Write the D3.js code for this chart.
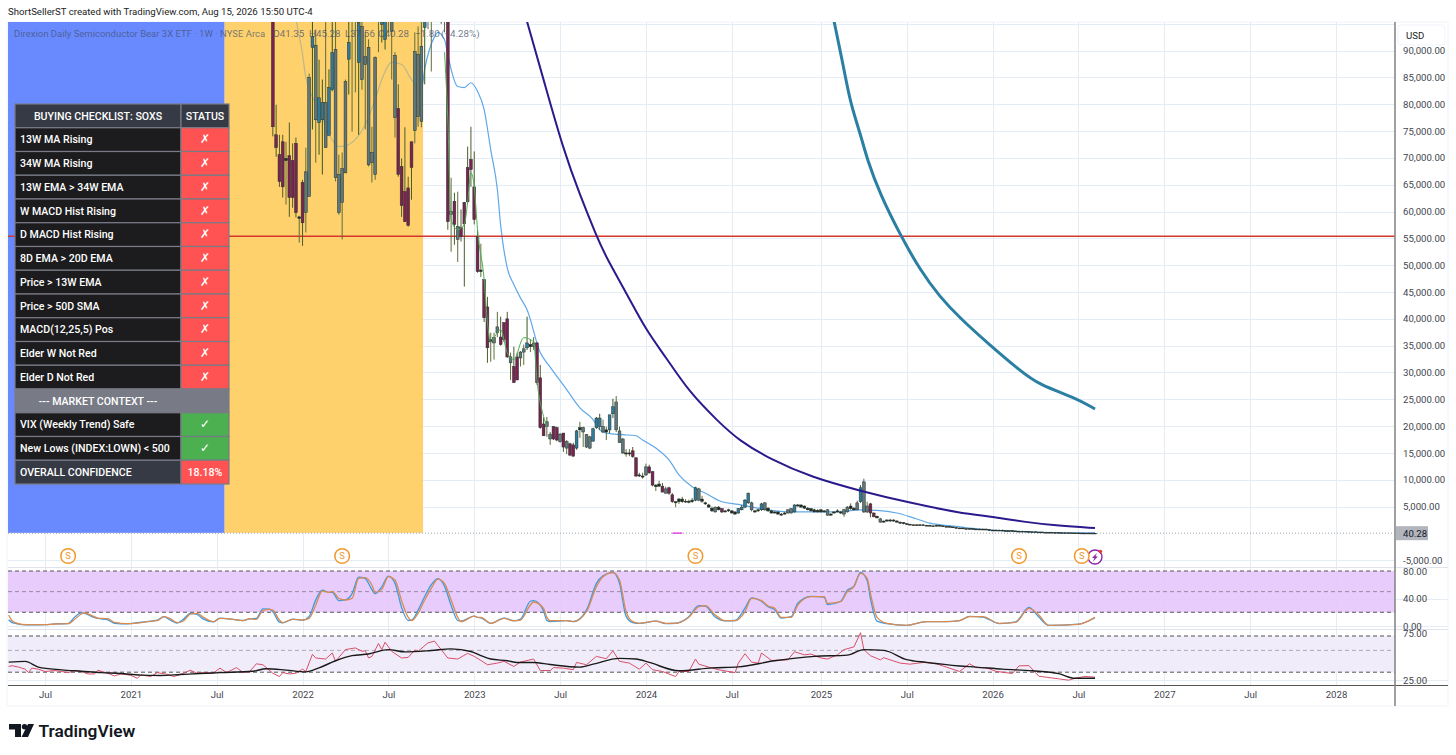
<!DOCTYPE html>
<html lang="en">

<head>
    <meta charset="UTF-8">
    <title>SOXS weekly</title>
    <style>
        html, body { margin: 0; padding: 0; background: #fff; }
        svg { display: block; }
        text { font-family: Roboto, sans-serif; }
    </style>
</head>

<body>
    <svg width="1456" height="755" id="svg"></svg>
    <script src="https://d3js.org/d3.v7.min.js"></script>
    <script>
        // weekly candles start 2021-11-01, prices in thousands of USD
        const firstCandleWeek = 69
        const opens = [
            103.3,74.3,70.6,73.0,69.9,70.4,69.5,72.7,58.7,65.4,
            59.8,62.8,90.6,77.1,76.6,77.1,71.9,74.2,82.7,66.3,
            59.8,61.7,67.2,88.4,96.2,96.7,87.8,84.6,87.4,68.7,
            69.1,66.9,97.3,94.9,92.1,95.8,93.6,77.5,79.2,68.4,
            63.7,64.4,73.0,75.1,77.7,76.8,94.3,97.3,97.7,98,
            98,97,96.5,105,59.4,61.9,54.8,57.0,61.7,68.2,
            69.7,64.6,55.3,48.8,47.3,42.2,35.7,35.5,37.4,36.6,
            39.3,40.0,31.8,31.1,32.9,32.7,33.8,34.6,34.8,34.8,
            35.5,29.0,20.4,19.9,17.6,19.9,19.7,18.5,18.7,17.1,
            16.7,16.5,15.9,19.3,18.9,16.1,15.9,17.2,19.7,19.9,
            18.9,18.9,19.3,22.3,19.3,16.9,15.0,14.8,14.8,15.4,
            14.1,10.7,10.5,10.9,12.4,11.5,8.7,8.8,8.8,7.5,
            8.5,7.2,5.7,5.9,5.9,5.9,5.8,5.9,6.2,6.2,
            6.0,5.5,4.9,4.2,4.0,4.4,4.6,4.0,4.2,3.8,
            3.6,3.8,4.4,4.9,5.7,4.4,4.0,4.2,4.4,4.4,
            4.2,3.8,3.8,3.6,3.4,3.6,3.8,3.8,4.0,5.1,
            4.9,4.7,4.4,4.2,4.0,4.0,4.0,4.0,3.4,3.4,
            3.8,4.0,3.8,3.6,4.0,4.6,4.4,4.4,5.9,4.0,
            4.0,5.5,3.8,2.9,2.1,2.1,2.3,2.3,2.3,2.1,
            1.9,
            2.0,1.8,1.7,1.6,1.6,1.5,1.6,1.5,1.5,1.4,
            1.4,1.5,1.4,1.3,1.3,1.2,1.1,1.0,1.0,0.9,
            0.9,0.9,0.8,0.8,0.7,0.8,0.7,0.6,0.6,0.6,
            0.6,0.5,0.5,0.5,0.45,0.4,0.4,0.4,0.35,0.3,
            0.3,0.25,0.25,0.2,0.2,0.2,0.15,0.15,0.12,0.12,
            0.1,0.1,0.08,0.08,0.06,0.05,0.05,0.05,0.0421
        ]
        const highs = [
            107,79.9,74.3,74.3,73.0,76.6,72.7,73.8,59.2,65.9,
            71.9,85.7,97.7,93.9,88.3,84.6,97.7,86.5,98.6,98.6,
            70.6,71.0,84.6,98.6,100.4,101.4,99.5,99.5,93.4,92.1,
            75.8,88.9,101,100,100,100,100,89.7,83.7,69.9,
            75.7,66.5,73.0,93.4,94.5,97.7,100.4,100,100,102,
            102,103,103,106,66.3,63.5,63.7,60.4,61.8,72.1,
            75.8,71.2,56.6,54.0,47.3,44.1,37.4,37.4,41.3,40.4,
            39.3,41.3,33.7,34.8,33.7,34.0,35.2,40.4,36.1,36.6,
            35.7,31.4,21.7,21.7,18.9,20.0,19.9,18.7,18.7,17.4,
            16.9,16.9,19.3,20.8,19.9,18.5,18.2,19.7,21.7,22.3,
            21.2,19.9,22.1,25.1,25.6,19.9,17.8,15.7,15.7,16.1,
            14.1,11.3,11.3,13.0,12.8,11.6,9.2,9.8,9.4,8.7,
            8.7,7.5,6.0,6.6,6.8,6.4,6.3,6.6,8.7,8.5,
            7.0,5.9,5.5,5.0,5.0,5.1,4.7,4.3,4.6,4.3,
            4.1,4.7,5.3,6.4,7.6,5.9,4.4,4.6,5.7,5.8,
            4.9,4.3,4.1,4.1,3.8,4.0,4.5,4.7,5.4,5.5,
            5.4,5.2,4.9,4.7,4.6,4.5,4.5,4.3,4.5,3.8,
            4.1,4.5,4.2,4.6,5.1,5.6,4.9,6.1,9.0,10.2,
            5.9,5.7,3.9,3.3,2.9,2.4,2.6,2.7,2.6,2.5,
            2.2,
            2.1,1.9,1.8,1.7,1.7,1.7,1.7,1.6,1.6,1.5,
            1.6,1.6,1.5,1.4,1.4,1.3,1.2,1.1,1.1,1.0,
            1.0,1.0,0.9,0.9,0.9,0.9,0.8,0.7,0.7,0.7,
            0.7,0.6,0.6,0.6,0.5,0.5,0.5,0.45,0.4,0.35,
            0.35,0.3,0.3,0.25,0.25,0.25,0.2,0.18,0.15,0.14,
            0.12,0.12,0.1,0.09,0.07,0.06,0.06,0.06,0.0453
        ]
        const lows = [
            74.0,70.2,64.6,62.6,61.3,59.0,60.7,58.9,54.2,53.6,
            56.1,62.8,75.3,69.1,70.6,66.9,71.9,74.2,82.4,65.6,
            59.4,54.8,67.2,81.8,74.9,82.2,74.3,82.7,75.3,68.4,
            65.4,65.9,89.7,91.5,90.2,93.4,84.6,73.8,66.5,59.0,
            58.1,57.2,62.2,72.7,75.8,75.7,83.7,94,86.1,96,
            96,95,93.4,56.6,52.5,53.8,50.6,54.4,46.0,61.7,
            64.6,57.6,48.6,47.8,39.4,31.8,32.0,32.4,36.6,35.0,
            35.7,32.7,28.6,28.1,28.6,31.1,31.4,34.2,33.8,34.2,
            27.7,19.5,18.2,18.0,16.5,17.4,17.2,16.9,15.2,14.8,
            14.4,14.3,15.6,17.8,16.1,15.9,15.7,17.1,19.5,19.3,
            18.7,17.4,18.7,21.5,18.9,16.9,14.8,14.3,14.4,14.1,
            10.5,10.5,10.2,10.7,11.1,8.8,7.9,8.7,7.7,7.4,
            7.2,5.7,4.9,5.5,5.7,5.7,5.6,5.7,6.0,6.0,
            5.7,5.3,4.8,4.0,3.9,4.3,3.8,3.9,4.0,3.7,
            3.5,3.7,4.3,4.7,5.5,4.1,3.8,4.0,4.2,4.2,
            4.0,3.7,3.7,3.5,3.3,3.5,3.7,3.7,3.9,5.0,
            4.8,4.6,4.3,4.1,3.9,3.9,3.9,3.9,3.3,3.3,
            3.7,3.9,3.6,3.1,3.9,4.4,4.2,4.3,5.7,3.8,
            3.8,3.0,3.0,2.8,2.0,2.0,2.2,2.2,2.2,2.0,
            1.8,
            1.7,1.6,1.5,1.5,1.4,1.4,1.4,1.4,1.3,1.3,
            1.3,1.3,1.2,1.2,1.1,1.0,0.9,0.9,0.8,0.8,
            0.8,0.7,0.7,0.6,0.6,0.6,0.5,0.5,0.5,0.5,
            0.4,0.4,0.4,0.4,0.35,0.35,0.3,0.3,0.25,0.25,
            0.2,0.2,0.15,0.15,0.15,0.12,0.12,0.1,0.1,0.08,
            0.07,0.07,0.06,0.05,0.04,0.04,0.04,0.04,0.0376
        ]
        const closes = [
            75.8,71.9,65.6,64.6,69.5,62.6,62.6,59.8,59.0,57.9,
            67.4,85.0,92.6,91.0,81.2,80.3,80.3,83.1,89.6,90.2,
            66.9,68.0,84.2,91.5,98.6,99.5,95.2,94.5,88.9,90.6,
            71.0,88.7,99.5,96.7,98.6,98.6,98.6,89.1,66.9,61.1,
            58.1,57.4,68.2,89.8,89.3,90.8,97.7,99.5,99.5,100,
            100,100,99,58.1,60.0,57.6,57.2,55.3,57.7,61.8,
            67.8,58.5,48.8,49.1,40.2,34.6,36.1,36.5,38.5,35.2,
            36.1,32.9,32.9,28.1,28.6,33.8,34.4,35.5,35.2,35.5,
            28.1,19.7,18.2,20.8,18.5,17.6,17.4,17.1,16.1,15.9,
            14.6,14.4,19.1,19.7,19.7,18.4,18.0,19.5,21.5,21.5,
            19.9,19.3,22.1,23.6,24.5,19.1,17.6,15.0,15.0,14.3,
            10.7,10.9,10.7,12.4,11.3,9.0,9.0,9.2,7.7,8.3,
            7.5,5.9,5.9,6.4,6.4,6.0,6.0,6.2,8.5,8.3,
            6.4,5.7,5.3,4.7,4.9,4.9,4.0,4.2,4.4,4.2,
            4.0,4.6,4.9,6.2,7.5,5.7,4.2,4.4,5.5,5.7,
            4.7,4.2,4.0,4.0,3.6,3.8,4.4,4.6,5.3,5.3,
            5.3,5.1,4.7,4.6,4.4,4.3,4.4,4.2,4.4,3.6,
            4.0,4.2,4.0,4.4,4.9,5.1,4.7,5.7,8.5,9.6,
            5.1,3.8,3.1,3.2,2.7,2.3,2.5,2.5,2.5,2.3,
            2.1,
            1.8,1.7,1.6,1.6,1.5,1.6,1.5,1.5,1.4,1.4,
            1.5,1.4,1.3,1.3,1.2,1.1,1.0,1.0,0.9,0.9,
            0.9,0.8,0.8,0.7,0.8,0.7,0.6,0.6,0.6,0.6,
            0.5,0.5,0.5,0.45,0.4,0.4,0.4,0.35,0.3,0.3,
            0.25,0.25,0.2,0.2,0.2,0.15,0.15,0.12,0.12,0.1,
            0.1,0.08,0.08,0.06,0.05,0.05,0.05,0.042,0.0403
        ]
        // elder impulse state of each bar: -1 red, 0 neutral, 1 up
        const impulse = [
            -1,-1,-1,-1,0,-1,-1,-1,0,-1,
            0,0,1,0,1,1,0,1,1,0,
            0,0,0,1,0,0,1,0,0,0,
            0,0,0,1,1,0,0,0,-1,-1,
            -1,-1,-1,0,0,0,1,0,0,0,
            0,1,0,-1,0,-1,0,-1,-1,-1,
            -1,-1,-1,0,-1,-1,0,0,0,-1,
            -1,-1,0,-1,-1,0,0,1,0,0,
            -1,-1,-1,0,0,-1,-1,0,-1,0,
            -1,-1,1,0,0,0,0,1,1,1,
            0,0,1,1,0,0,0,0,0,-1,
            -1,0,0,0,-1,-1,0,0,-1,0,
            -1,-1,0,0,0,0,0,0,1,0,
            0,0,0,0,0,0,-1,0,0,0,
            0,1,1,1,1,0,0,0,1,0,
            0,0,0,0,0,0,0,0,1,0,
            0,0,0,0,0,0,0,0,0,0,
            0,0,0,0,0,0,0,0,1,0,
            0,-1,-1,0,0,0,0,0,0,0,
            0,
            0,0,0,0,0,0,0,0,0,0,
            0,0,0,0,0,0,0,0,0,0,
            0,0,0,0,0,0,0,0,0,0,
            0,0,0,0,0,0,0,0,0,0,
            0,0,0,0,0,0,0,0,0,0,
            0,0,0,0,0,0,0,0,0
        ]

        // moving averages, week numbers counted from 2020-07-06
        const ema13Weeks = [76,78,79,83,86,89,92,97,100,102,105,108,111,114,115,118,119,121,122,123,125,127,129,131,133,135,137,138,140,142,144,146,150,153,158,162,166,168,170,175,179,181,185,189,192,196,200,205,210,216,225,240,247,252,258,263,268,276,285,300,318]
        const ema13Vals = [95.8,89.3,85.0,79.0,74.4,72.1,72.5,76.2,80.9,84.6,87.8,87.4,84.6,82.8,86.5,92.6,93.4,92,89.3,86.5,83.3,83.1,84.0,82.4,79.0,71.5,64.1,57.5,49.5,46.4,43.9,41.7,33.7,31.0,26.8,23.4,21.2,19.3,18.7,18.4,18.2,17.4,15.9,13.7,10.9,8.7,7.5,5.9,5.4,4.7,4.0,4.0,4.4,4.3,3.8,2.9,1.9,1.3,0.7,0.26,0.08]
        const ema8Weeks = [121,122,123,125,127,128,129,130,131,133,134,135,136,138,140,142,145,148,149,151,152]
        const ema8Vals = [89.7,77.2,58.5,56.6,57.6,61.7,67.2,64.6,56.6,47.3,39.3,35.7,36.5,38.0,33.7,32.4,36.5,35.7,28.6,21.8,19.9]
        const sma50Weeks = [146,151,157,162,167,170,176,182,188,195,204,210,220,232,247,262,277,287,297,307,318]
        const sma50Vals = [95.4,84.6,71.5,63.1,55.5,51.4,44.9,37.9,32.9,26.4,20.8,17.4,13.7,10.5,7.9,5.7,3.8,3.1,2.1,1.4,1.0]
        const sma200Weeks = [239,242,244,247,249,253,259,265,271,277,286,295,301,312,318]
        const sma200Vals = [95.4,86.5,80,74.4,69.7,63.1,55.7,49.1,44.1,40.2,35.2,30.5,27.7,25.3,23.2]

        const stochWeeks = [-11,-10,-9,-7,-4,0,3,7,9,11,12,14,16,19,21,25,28,31,34,36,38,40,42,44,46,48,51,53,57,60,62,64,66,68,69,71,72,75,78,80,82,84,86,87,89,91,93,95,97,99,100,102,104,106,108,110,111,113,115,117,119,121,123,125,126,130,131,132,135,139,142,144,147,148,151,152,153,158,160,164,167,169,172,174,176,178,180,185,188,191,195,198,200,203,206,209,212,214,217,219,221,223,226,228,232,236,237,241,243,245,247,249,250,252,255,261,267,273,277,280,284,289,294,298,301,304,313,318]
        const stochD = [16,7.7,4.8,2.4,1.9,1.9,2.9,3.4,9.7,17.4,18.9,15.5,11.6,10.6,5.3,3.4,4.3,6.3,7.7,13.6,10.6,4.8,7.7,17.4,18.4,12.6,6.3,11.1,9.7,7.7,10.6,9.7,22.3,24.2,23.2,8.7,4.8,9.7,8.7,11.1,30.5,50.9,48.9,50.4,40.2,37.8,40.2,69.3,70.3,59.6,48.9,53.3,71.7,66.9,36.8,12.6,7.7,18.4,37.8,54.8,68.3,62,37.8,12.6,6.3,14.5,12.6,12.6,3.9,11.1,7.7,8.7,30.5,34.9,25.7,12.6,7.7,7.7,6.3,20.8,57.2,71.7,77.5,66.9,20.8,6.3,3.9,7.2,3.9,3.9,12.6,28.1,29.6,16,7.7,7.7,20.8,40.2,36.8,29.1,25.7,12.6,12.6,30.5,42.6,42.6,32.9,35.4,49.9,57.2,76.6,69.3,47.5,12.6,3.9,1,6.3,6.3,7.8,13.6,13.6,3.9,5.4,25.7,16,1,2.5,12.6]
        const stochK = [9,5,4,2,1.5,2,3,3.5,13,19,18.5,14,11,9,4,3,4.8,6.5,8.5,13.5,8.5,4.2,10,18.5,17,10,6,11.5,9.5,8,10.5,11,25,24.5,21,5.5,4.5,10,8.5,14,38,52,49,49,37,38,47,71,69,53,47,57,72.5,62,27,8,8.5,23,43,60,69,58,30,8,7,14.5,12.5,12,3.9,11.5,7.5,10,36,37,22,8,6.3,7.7,6.3,23,62,73,78,62,14,5,3.8,7,3.5,4,13.5,29.5,29,13,7.5,8,26,41,36,28,24,11.5,13.5,33,43,42,31,36,52,58,78,66,40,7,3.5,1,6.5,6.3,7.8,14,13,3.5,6,27,13,1,2.8,12]

        const rsiWeeks = [-11,-10,-8,-6,-5,-4,-2,0,3,5,7,9,11,13,15,16,19,21,23,26,28,29,32,34,37,39,42,44,46,48,51,53,55,58,60,62,64,66,69,71,72,74,76,78,79,81,82,85,87,88,91,94,96,97,98,99,101,102,103,105,108,110,112,113,116,118,119,122,125,128,130,132,134,137,139,142,144,148,150,153,154,157,160,161,164,167,170,172,174,177,180,182,184,187,191,192,195,197,198,201,204,209,210,212,214,216,217,220,225,227,230,232,235,237,240,242,245,247,248,250,253,254,259,262,266,270,273,277,280,282,285,288,293,295,298,301,307,310,312,315,318]
        const rsiVals = [34.3,34.9,33.8,32.2,29.7,33,32.2,30.5,31.2,30.5,29.7,31.2,30.5,28.8,28.8,31.4,29.3,27.5,28.8,27.9,26,28.2,27.1,29.7,28.6,27.1,29.3,31.4,29.3,29.7,29.3,33,29.7,33.4,29.7,30.5,36.5,35.7,29.3,27.1,29.7,28.8,29.3,32.2,30.5,45.6,41.8,40.8,47,38.7,50.9,52.9,48.9,49.5,41.8,43.4,58.7,50.9,60.5,48.9,41.8,42.4,50.4,48.9,59.6,62,56,41.8,40.8,46.6,43.4,39.5,35.7,37.1,38.7,34.3,38,40.8,31.2,31.2,33.4,33,31.8,37.7,35.7,43.4,41.1,49.4,38.7,37.1,32.2,37.1,31.8,30.5,27.1,30.5,30.5,40.8,36.2,33.8,31.8,29.7,37.1,46.2,38,37.1,47,39.5,40,48.4,45,45.9,41.8,40.8,45,50.9,54.2,75.5,50.9,44.1,40,42.1,37.1,36.2,37.7,36.5,33.8,30.5,36.5,33.4,33.4,30.6,29.1,34.8,35,27.3,25.7,24.9,26,27.2,26.7]
        const rsiMaWeeks = [-11,-6,-2,5,11,17,23,29,35,41,47,53,63,67,73,79,83,88,93,98,104,109,117,123,129,132,135,140,143,148,153,162,166,174,179,183,192,202,210,221,233,243,248,254,261,267,277,282,290,299,307,312,318]
        const rsiMaVals = [38,38.6,33.8,31.7,30.7,29.7,29.1,28,27.8,28.4,29.1,29.7,30.7,32.5,31.5,30.2,33.2,39.2,44.2,45.9,50.9,48.2,49.8,51.7,48.7,44.2,40.8,39.2,37.7,37.7,35.9,33.8,36.2,41.4,40.8,37.7,31,33.2,34,39.2,43.4,44.7,50.9,50,40.2,37.7,34.7,33.8,32.2,31,29,26,26]

        const priceTicks = [85,80,75,70,65,60,55,50,45,40,35,30,25,20,15,10,5,-5,90]
        const gridPrices = [95,90,85,80,75,70,65,60,55,50,45,40,35,30,25,20,15,10,5,-5]
        const timeTickWeeks = [0,26,52,78,104,130,156,182,208,235,261,287,313,339,365,391]
        const timeTickLabels = ["Jul","2021","Jul","2022","Jul","2023","Jul","2024","Jul","2025","Jul","2026","Jul","2027","Jul","2028"]
        const zoneWeeks = [-11.2, 54.4, 114.5]
        const dividendWeeks = [7, 90, 197, 295, 314]
        const alertWeek = 318
        const supportLevel = 55.4
        const lastPrice = 0.04028
        const stochLevels = [80, 50, 20]
        const rsiLevels = [70, 50, 30]

        const checkLabels = ["13W MA Rising","34W MA Rising","13W EMA > 34W EMA","W MACD Hist Rising","D MACD Hist Rising","8D EMA > 20D EMA","Price > 13W EMA","Price > 50D SMA","MACD(12,25,5) Pos","Elder W Not Red","Elder D Not Red"]
        const contextLabels = ["VIX (Weekly Trend) Safe","New Lows (INDEX:LOWN) < 500"]
        const legendParts = ["O41.35","H45.28","L37.56","C40.28","\u22121.80","(\u22124.28%)"]

        const svg = d3.select("svg#svg")
        const paneLeft = 8, paneRight = 1395, paneTop = 22, axisY = 685, paneBottom = 706

        const base = Date.UTC(2020, 6, 6)
        const weekDate = w => new Date(base + w * 7 * 864e5)
        const x = d3.scaleUtc().domain([weekDate(0), weekDate(391)]).range([45, 1336])
        const y = d3.scaleLinear().domain([0, 85]).range([533.4, 77.4])
        const yStoch = d3.scaleLinear().domain([0, 80]).range([626, 571])
        const yRsi = d3.scaleLog().domain([25, 75]).range([680, 633])

        const defs = svg.append("defs")
        const addClip = (id, x0, x1, y0, y1) => defs.append("clipPath").attr("id", id).append("rect")
            .attr("x", x0).attr("y", y0).attr("width", x1 - x0).attr("height", y1 - y0)
        addClip("main", paneLeft, paneRight, paneTop, 566)
        addClip("yellow", x(weekDate(zoneWeeks[0])), x(weekDate(zoneWeeks[2])), paneTop, 566)
        addClip("white", x(weekDate(zoneWeeks[2])), paneRight, paneTop, 566)
        addClip("stoch", paneLeft, paneRight, 568, 628)
        addClip("rsi", paneLeft, paneRight, 630, axisY)

        // outer frame and title
        svg.append("rect").attr("x", paneLeft - 1).attr("y", paneTop).attr("width", 1441).attr("height", paneBottom - paneTop)
            .attr("fill", "#fff").attr("stroke", "#f0f3fa")
        svg.append("text").attr("x", 8).attr("y", 15).attr("font-size", 9.65).attr("fill", "#222")
            .text("ShortSellerST created with TradingView.com, Aug 15, 2026 15:50 UTC-4")

        // grid
        const grid = svg.append("g").attr("stroke", "#e4ecf5").attr("stroke-width", 1)
        grid.selectAll(".h").data(gridPrices).join("line").attr("class", "h")
            .attr("x1", paneLeft).attr("x2", paneRight).attr("y1", d => Math.round(y(d)) + .5).attr("y2", d => Math.round(y(d)) + .5)
        grid.selectAll(".v").data(timeTickWeeks).join("line").attr("class", "v")
            .attr("y1", paneTop).attr("y2", axisY).attr("x1", d => Math.round(x(weekDate(d))) + .5).attr("x2", d => Math.round(x(weekDate(d))) + .5)
        grid.selectAll(".p").data([yStoch(40), yStoch(0), yRsi(25)]).join("line").attr("class", "p")
            .attr("x1", paneLeft).attr("x2", 1448).attr("y1", d => Math.round(d) + .5).attr("y2", d => Math.round(d) + .5)

        // coloured zones
        const zoneColors = ["#6083ff", "#fece64"]
        svg.append("g").selectAll("rect").data(zoneColors).join("rect")
            .attr("x", (d, i) => x(weekDate(zoneWeeks[i])))
            .attr("width", (d, i) => x(weekDate(zoneWeeks[i + 1])) - x(weekDate(zoneWeeks[i])))
            .attr("y", paneTop).attr("height", y(0.1) - paneTop)
            .attr("fill", d => d).attr("fill-opacity", .94)

        const mainLine = (weeks, vals, curve = d3.curveMonotoneX) => d3.line().curve(curve)
            .x((d, i) => x(weekDate(weeks[i]))).y(d => y(d))(vals)
        const main = svg.append("g").attr("clip-path", "url(#main)")

        // 13W ema, washed out where it runs under the yellow zone
        main.append("path").attr("d", mainLine(ema13Weeks, ema13Vals)).attr("fill", "none")
            .attr("stroke", "#bdb88a").attr("stroke-width", 1.2).attr("clip-path", "url(#yellow)")
        main.append("path").attr("d", mainLine(ema13Weeks, ema13Vals)).attr("fill", "none")
            .attr("stroke", "#5fa8e8").attr("stroke-width", 1.2).attr("clip-path", "url(#white)")

        // support line
        main.append("line").attr("x1", paneLeft).attr("x2", paneRight).attr("y1", y(supportLevel)).attr("y2", y(supportLevel))
            .attr("stroke", "#d5362c").attr("stroke-width", 1.6)

        // last price dotted line
        main.append("line").attr("x1", paneLeft).attr("x2", paneRight).attr("y1", y(lastPrice)).attr("y2", y(lastPrice))
            .attr("stroke", "#9aa0ab").attr("stroke-width", 1).attr("stroke-dasharray", "1 2")

        // candles, tiny bodies read as near black in the reference
        const bodyColor = d3.scaleOrdinal().domain([-1, 0, 1]).range(["#7a2350", "#5f787c", "#2f7b9c"])
        const wickColor = d3.scaleOrdinal().domain([-1, 0, 1]).range(["#4d5c2c", "#5f6d3a", "#35581f"])
        const bars = d3.range(opens.length)
        const barX = i => x(weekDate(firstCandleWeek + i))
        const bodyH = i => Math.abs(y(opens[i]) - y(closes[i]))
        main.append("g").selectAll("line").data(bars).join("line")
            .attr("x1", i => barX(i)).attr("x2", i => barX(i))
            .attr("y1", i => y(highs[i])).attr("y2", i => y(lows[i]))
            .attr("stroke", i => wickColor(impulse[i])).attr("stroke-width", 1)
        main.append("g").selectAll("rect").data(bars).join("rect")
            .attr("x", i => barX(i) - 1.4).attr("width", 2.8)
            .attr("y", i => y(Math.max(opens[i], closes[i])))
            .attr("height", i => Math.max(.8, bodyH(i)))
            .attr("fill", i => bodyH(i) < 3 && impulse[i] === 0 ? "#1f2a26" : bodyColor(impulse[i]))
            .attr("stroke", "#26302c").attr("stroke-width", .5)

        main.append("path").attr("d", mainLine(ema8Weeks, ema8Vals)).attr("fill", "none")
            .attr("stroke", "#4caf50").attr("stroke-width", 1)
        main.append("path").attr("d", mainLine(sma50Weeks, sma50Vals, d3.curveBasis)).attr("fill", "none")
            .attr("stroke", "#2a1a8c").attr("stroke-width", 2)
        main.append("path").attr("d", mainLine(sma200Weeks, sma200Vals, d3.curveBasis)).attr("fill", "none")
            .attr("stroke", "#2b7fa3").attr("stroke-width", 3)

        // pink marker on the price line
        main.append("line").attr("x1", x(weekDate(190))).attr("x2", x(weekDate(193))).attr("y1", y(0.05)).attr("y2", y(0.05))
            .attr("stroke", "#e23fe0").attr("stroke-width", 1.4)

        // legend
        svg.append("text").attr("x", 14).attr("y", 37).attr("font-size", 9.5).attr("fill", "#3f4f6a").attr("fill-opacity", .7)
            .text("Direxion Daily Semiconductor Bear 3X ETF \u00b7 1W \u00b7 NYSE Arca")
        svg.append("g").selectAll("text").data(legendParts).join("text")
            .attr("x", (d, i) => [273, 309, 345, 378, 415, 441][i]).attr("y", 37).attr("font-size", 9.8)
            .attr("fill", "#3f4f6a").attr("fill-opacity", .75).text(d => d)

        // stochastic pane
        svg.append("rect").attr("x", paneLeft).attr("width", paneRight - paneLeft)
            .attr("y", yStoch(80)).attr("height", yStoch(20) - yStoch(80)).attr("fill", "#e5c8fc").attr("fill-opacity", .92)
        svg.append("g").selectAll("line").data(stochLevels).join("line")
            .attr("x1", paneLeft).attr("x2", paneRight).attr("y1", d => yStoch(d)).attr("y2", d => yStoch(d))
            .attr("stroke", d => d === 50 ? "#9b8aa8" : "#555").attr("stroke-width", 1).attr("stroke-dasharray", "4 3")
        const stochLine = vals => d3.line().curve(d3.curveMonotoneX)
            .x((d, i) => x(weekDate(stochWeeks[i]))).y(d => yStoch(d))(vals)
        const stochG = svg.append("g").attr("clip-path", "url(#stoch)").attr("fill", "none").attr("stroke-width", 1.3)
        stochG.append("path").attr("d", stochLine(stochK)).attr("stroke", "#3d9be0")
        stochG.append("path").attr("d", stochLine(stochD)).attr("stroke", "#d98b52")

        // rsi pane, log scale
        svg.append("rect").attr("x", paneLeft).attr("width", paneRight - paneLeft)
            .attr("y", yRsi(70)).attr("height", yRsi(30) - yRsi(70)).attr("fill", "#f1ecf9")
        svg.append("g").selectAll("line").data(rsiLevels).join("line")
            .attr("x1", paneLeft).attr("x2", paneRight).attr("y1", d => yRsi(d)).attr("y2", d => yRsi(d))
            .attr("stroke", d => d === 30 ? "#555" : d === 70 ? "#888" : "#a8a8b4").attr("stroke-width", d => d === 70 ? 1.4 : 1).attr("stroke-dasharray", "4 3")
        const rsiG = svg.append("g").attr("clip-path", "url(#rsi)").attr("fill", "none")
        rsiG.append("path").attr("stroke", "#d9506a").attr("stroke-width", 1)
            .attr("d", d3.line().x((d, i) => x(weekDate(rsiWeeks[i]))).y(d => yRsi(d))(rsiVals))
        rsiG.append("path").attr("stroke", "#1a1a1a").attr("stroke-width", 1.4)
            .attr("d", d3.line().curve(d3.curveMonotoneX).x((d, i) => x(weekDate(rsiMaWeeks[i]))).y(d => yRsi(d))(rsiMaVals))

        // pane separators
        svg.append("g").attr("stroke", "#e0e3eb").selectAll("line").data([567, 629]).join("line")
            .attr("x1", paneLeft).attr("x2", 1448).attr("y1", d => d + .5).attr("y2", d => d + .5)

        // alert marker goes under the last dividend one
        const alertMark = svg.append("g").attr("transform", `translate(${x(weekDate(alertWeek))},557)`)
        alertMark.append("circle").attr("r", 7).attr("fill", "#fff").attr("stroke", "#8e24aa").attr("stroke-width", 1.4)
        alertMark.append("path").attr("d", "M2,-4 L-3,1 L-.5,1 L-2,4.5 L3,-.5 L.5,-.5 Z").attr("fill", "#8e24aa")
        alertMark.append("circle").attr("cx", 5.5).attr("cy", -5.5).attr("r", 1.8).attr("fill", "#e53935")

        // dividend markers
        const marks = svg.append("g").selectAll("g").data(dividendWeeks).join("g")
            .attr("transform", d => `translate(${x(weekDate(d))},556)`)
        marks.append("circle").attr("r", 7.3).attr("fill", "#fff").attr("stroke", "#f2982c").attr("stroke-width", 1.5)
        marks.append("text").attr("text-anchor", "middle").attr("y", 3.4).attr("font-size", 9.5).attr("fill", "#f2982c").text("S")

        // axes
        const axisFont = g => g.call(s => s.select(".domain").remove())
            .call(s => s.selectAll("text").attr("font-size", 9.6).attr("fill", "#43464f").attr("font-family", "Roboto, sans-serif").attr("text-anchor", "start"))
        svg.append("g").attr("transform", `translate(${paneRight},0)`)
            .call(d3.axisRight(y).tickValues(priceTicks).tickSize(0).tickPadding(8)
                .tickFormat(d => d3.format(",.2f")(d * 1000).replace("\u2212", "-")))
            .call(axisFont)
        svg.append("g").attr("transform", `translate(${paneRight},0)`)
            .call(d3.axisRight(yStoch).tickValues([80, 40, 0]).tickSize(0).tickPadding(8).tickFormat(d3.format(".2f")))
            .call(axisFont)
        svg.append("g").attr("transform", `translate(${paneRight},0)`)
            .call(d3.axisRight(yRsi).tickValues([75, 25]).tickSize(0).tickPadding(8).tickFormat(d3.format(".2f")))
            .call(axisFont)
        svg.append("g").attr("transform", `translate(0,${axisY})`)
            .call(d3.axisBottom(x).tickValues(timeTickWeeks.map(weekDate)).tickSize(0).tickPadding(6)
                .tickFormat((d, i) => timeTickLabels[i]))
            .call(s => s.select(".domain").remove())
            .call(s => s.selectAll("text").attr("font-size", 9.6).attr("fill", "#43464f").attr("font-family", "Roboto, sans-serif"))

        svg.append("line").attr("x1", paneLeft).attr("x2", 1448).attr("y1", axisY + .5).attr("y2", axisY + .5).attr("stroke", "#555")
        svg.append("line").attr("x1", paneRight).attr("x2", paneRight).attr("y1", paneTop).attr("y2", paneBottom).attr("stroke", "#888").attr("stroke-width", 1.6)

        // currency button and last price tag
        svg.append("rect").attr("x", 1398).attr("y", 25).attr("width", 47).attr("height", 20).attr("rx", 3).attr("fill", "#fff").attr("stroke", "#f0f3fa")
        svg.append("text").attr("x", 1406).attr("y", 39).attr("font-size", 9.6).attr("fill", "#222").text("USD")
        svg.append("rect").attr("x", paneRight + 1).attr("y", y(lastPrice) - 7).attr("width", 32).attr("height", 14).attr("fill", "#b2b5be")
        svg.append("text").attr("x", 1403).attr("y", y(lastPrice) + 3.5).attr("font-size", 9.6).attr("fill", "#131722").text("40.28")

        // checklist table
        const table = svg.append("g").attr("font-size", 10.6).attr("font-weight", 500)
        const tblX = 15, tblSplit = 181, tblRight = 229, tblY = 104, rowH = 23.75
        const rows = [{ label: "BUYING CHECKLIST: SOXS", status: "STATUS", kind: "head" }]
            .concat(checkLabels.map(label => ({ label, status: "\u2717", kind: "bad" })))
            .concat([{ label: "--- MARKET CONTEXT ---", status: "", kind: "context" }])
            .concat(contextLabels.map(label => ({ label, status: "\u2713", kind: "good" })))
            .concat([{ label: "OVERALL CONFIDENCE", status: "18.18%", kind: "total" }])
        const leftFill = { head: "#363a45", bad: "#1c1c1e", context: "#787b86", good: "#1c1c1e", total: "#363a45" }
        const rightFill = { head: "#363a45", bad: "#ff5252", context: "#787b86", good: "#4caf50", total: "#ff5252" }
        const row = table.selectAll("g").data(rows).join("g").attr("transform", (d, i) => `translate(0,${tblY + i * rowH})`)
        row.append("rect").attr("x", tblX).attr("width", tblSplit - tblX).attr("height", rowH)
            .attr("fill", d => leftFill[d.kind]).attr("stroke", "#787b86").attr("stroke-width", 1.2)
        row.append("rect").attr("x", tblSplit).attr("width", tblRight - tblSplit).attr("height", rowH)
            .attr("fill", d => rightFill[d.kind]).attr("stroke", "#787b86").attr("stroke-width", 1.2)
        row.append("text").attr("y", 15.5).attr("fill", "#fff")
            .attr("x", d => d.kind === "head" || d.kind === "context" ? (tblX + tblSplit) / 2 : 20)
            .attr("text-anchor", d => d.kind === "head" || d.kind === "context" ? "middle" : "start")
            .text(d => d.label)
        row.append("text").attr("y", 15.5).attr("fill", "#fff").attr("x", (tblSplit + tblRight) / 2).attr("text-anchor", "middle")
            .attr("font-family", d => d.kind === "bad" || d.kind === "good" ? "DejaVu Sans" : null)
            .attr("font-size", d => d.kind === "bad" || d.kind === "good" ? 12 : null)
            .text(d => d.status)

        // logo
        const logo = svg.append("g").attr("fill", "#131722")
        logo.append("path").attr("d", "M9,724 H21 V737 H15 V729.5 H9 Z M28,724 H34 L28,737 H21.5 Z")
        logo.append("circle").attr("cx", 24.5).attr("cy", 726.8).attr("r", 2.7)
        logo.append("text").attr("x", 38.5).attr("y", 737).attr("font-size", 17.3).attr("font-weight", 600)
            .attr("font-family", "Inter, sans-serif").text("TradingView")
    </script>
</body>

</html>
